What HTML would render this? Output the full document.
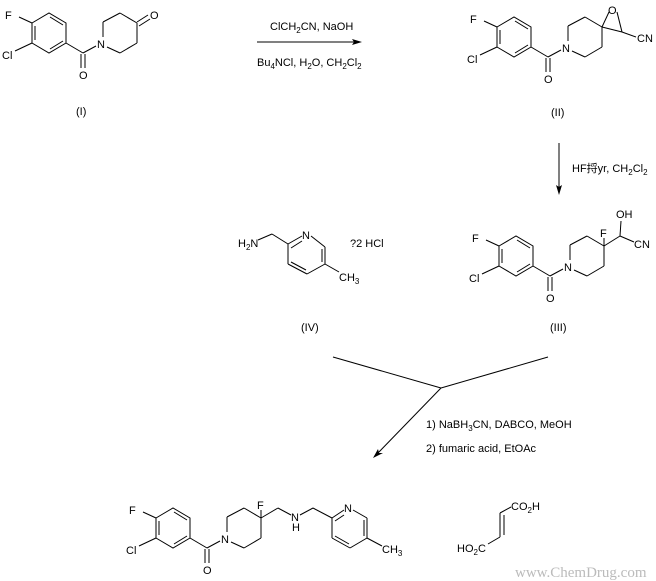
<!DOCTYPE html>
<html><head><meta charset="utf-8"><style>
html,body{margin:0;padding:0;background:#fff;}
svg{display:block;}
text{font-family:"Liberation Sans","Noto Sans CJK SC",sans-serif;font-size:11px;fill:#000;}
</style></head><body>
<svg width="656" height="581" viewBox="0 0 656 581" xmlns="http://www.w3.org/2000/svg">
<defs>
<g id="bz" stroke="#000" stroke-width="1" fill="none">
  <polygon points="32,23 49,13 66,23 66,43 49,53 32,43"/>
  <line x1="35" y1="26" x2="35" y2="40"/>
  <line x1="50" y1="17" x2="63" y2="25"/>
  <line x1="50" y1="49" x2="63" y2="41"/>
  <line x1="19" y1="17" x2="32" y2="23"/>
  <line x1="15" y1="51" x2="32" y2="43"/>
  <line x1="66" y1="43" x2="83" y2="53"/>
  <line x1="81" y1="54" x2="81" y2="68"/>
  <line x1="85" y1="54" x2="85" y2="68"/>
  <line x1="83" y1="53" x2="96" y2="46"/>
  <line x1="103" y1="37" x2="103" y2="22"/>
  <line x1="103" y1="22" x2="120" y2="13"/>
  <line x1="120" y1="13" x2="137" y2="23"/>
  <line x1="137" y1="23" x2="137" y2="43"/>
  <line x1="137" y1="43" x2="120" y2="53"/>
  <line x1="120" y1="53" x2="107" y2="47"/>
</g>
<g id="bzt">
  <text x="5" y="19">F</text>
  <text x="2" y="59">Cl</text>
  <text x="79" y="79">O</text>
  <text x="97" y="48">N</text>
</g>
</defs>

<!-- Compound I -->
<use href="#bz"/><use href="#bzt"/>
<g stroke="#000" fill="none"><line x1="137" y1="22" x2="148" y2="15"/><line x1="139" y1="26" x2="150" y2="19"/></g>
<text x="150" y="19">O</text>
<text x="76" y="115">(I)</text>

<!-- Arrow 1 -->
<line x1="257" y1="42" x2="358" y2="42" stroke="#000"/>
<polygon points="362,42 352,39 354,42 352,45" fill="#000"/>
<text x="270" y="30">ClCH<tspan font-size="8" dy="3">2</tspan><tspan dy="-3">CN, NaOH</tspan></text>
<text x="257" y="66">Bu<tspan font-size="8" dy="3">4</tspan><tspan dy="-3">NCl, H</tspan><tspan font-size="8" dy="3">2</tspan><tspan dy="-3">O, CH</tspan><tspan font-size="8" dy="3">2</tspan><tspan dy="-3">Cl</tspan><tspan font-size="8" dy="3">2</tspan></text>

<!-- Compound II -->
<g transform="translate(465,4)"><use href="#bz"/><use href="#bzt"/></g>
<g stroke="#000" fill="none">
<line x1="602" y1="27" x2="609" y2="12"/>
<line x1="617" y1="12" x2="622" y2="32"/>
<line x1="602" y1="27" x2="622" y2="32"/>
<line x1="622" y1="32" x2="636" y2="37"/>
</g>
<text x="608" y="14">O</text>
<text x="637" y="42">CN</text>
<text x="551" y="116">(II)</text>

<!-- Arrow 2 -->
<line x1="559" y1="143" x2="559" y2="191" stroke="#000"/>
<polygon points="559,195 556,185 559,187 562,185" fill="#000"/>
<text x="572" y="172">HF捋yr, CH<tspan font-size="8" dy="3">2</tspan><tspan dy="-3">Cl</tspan><tspan font-size="8" dy="3">2</tspan></text>

<!-- Compound III -->
<g transform="translate(467,223)"><use href="#bz"/><use href="#bzt"/></g>
<g stroke="#000" fill="none">
<line x1="604" y1="246" x2="604" y2="238"/>
<line x1="604" y1="246" x2="620" y2="236"/>
<line x1="620" y1="236" x2="621" y2="221"/>
<line x1="620" y1="236" x2="634" y2="242"/>
</g>
<text x="600" y="237">F</text>
<text x="616" y="218">OH</text>
<text x="634" y="248">CN</text>
<text x="550" y="331">(III)</text>

<!-- Compound IV -->
<g stroke="#000" fill="none">
<line x1="258" y1="240" x2="272" y2="234"/>
<line x1="272" y1="234" x2="288" y2="244"/>
<line x1="288" y1="244" x2="302" y2="236"/>
<line x1="291" y1="248" x2="302" y2="241"/>
<line x1="311" y1="236" x2="325" y2="247"/>
<line x1="325" y1="247" x2="325" y2="264"/>
<line x1="322" y1="249" x2="322" y2="262"/>
<line x1="325" y1="264" x2="307" y2="274"/>
<line x1="307" y1="274" x2="288" y2="264"/>
<line x1="306" y1="270" x2="291" y2="262"/>
<line x1="288" y1="264" x2="288" y2="244"/>
<line x1="325" y1="264" x2="339" y2="272"/>
</g>
<text x="238" y="247">H<tspan font-size="8" dy="3">2</tspan><tspan dy="-3">N</tspan></text>
<text x="302" y="239">N</text>
<text x="339" y="281">CH<tspan font-size="8" dy="3">3</tspan></text>
<text x="350" y="247">?2 HCl</text>
<text x="301" y="331">(IV)</text>

<!-- Convergent arrow -->
<g stroke="#000" fill="none">
<line x1="333" y1="357" x2="441" y2="388"/>
<line x1="548" y1="357" x2="441" y2="388"/>
<line x1="441" y1="388" x2="378" y2="453"/>
</g>
<polygon points="373,458 378,449 379,453 383,453" fill="#000"/>
<text x="426" y="428">1) NaBH<tspan font-size="8" dy="3">3</tspan><tspan dy="-3">CN, DABCO, MeOH</tspan></text>
<text x="426" y="452">2) fumaric acid, EtOAc</text>

<!-- Final product -->
<g transform="translate(124,495)"><use href="#bz"/><use href="#bzt"/></g>
<g stroke="#000" fill="none">
<line x1="261" y1="518" x2="261" y2="510"/>
<line x1="261" y1="518" x2="278" y2="508"/>
<line x1="278" y1="508" x2="291" y2="515"/>
<line x1="300" y1="515" x2="313" y2="508"/>
<line x1="313" y1="508" x2="332" y2="518"/>
<line x1="332" y1="518" x2="344" y2="510"/>
<line x1="335" y1="521" x2="344" y2="515"/>
<line x1="353" y1="510" x2="367" y2="518"/>
<line x1="367" y1="518" x2="367" y2="538"/>
<line x1="364" y1="520" x2="364" y2="536"/>
<line x1="367" y1="538" x2="350" y2="548"/>
<line x1="350" y1="548" x2="332" y2="538"/>
<line x1="349" y1="544" x2="335" y2="536"/>
<line x1="332" y1="538" x2="332" y2="518"/>
<line x1="367" y1="538" x2="382" y2="546"/>
</g>
<text x="257" y="509">F</text>
<text x="291" y="521">N</text>
<text x="292" y="531">H</text>
<text x="344" y="512">N</text>
<text x="382" y="553">CH<tspan font-size="8" dy="3">3</tspan></text>

<!-- Fumaric acid -->
<g stroke="#000" fill="none">
<line x1="500" y1="513" x2="511" y2="507"/>
<line x1="500" y1="513" x2="500" y2="537"/>
<line x1="504" y1="515" x2="504" y2="535"/>
<line x1="500" y1="537" x2="488" y2="544"/>
</g>
<text x="511" y="510">CO<tspan font-size="8" dy="3">2</tspan><tspan dy="-3">H</tspan></text>
<text x="457" y="552">HO<tspan font-size="8" dy="3">2</tspan><tspan dy="-3">C</tspan></text>

<text x="515" y="577" style="font-family:'Liberation Serif',serif;font-size:15px;fill:#bbb;">www.ChemDrug.com</text>
</svg>
</body></html>
